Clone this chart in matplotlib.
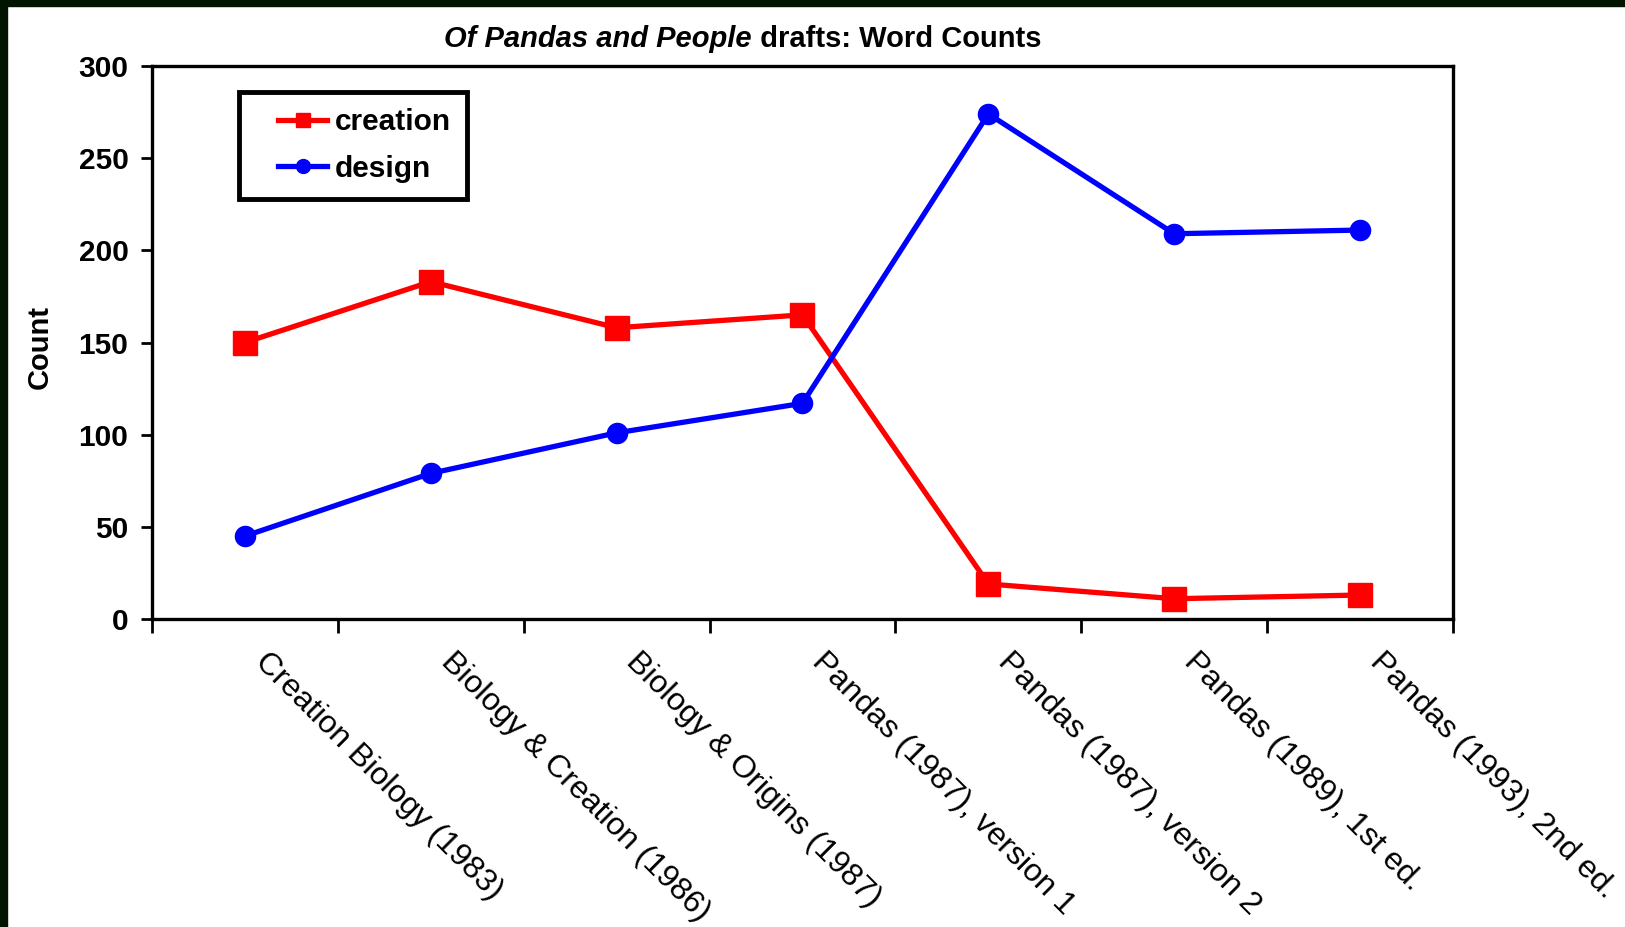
import matplotlib
matplotlib.use("Agg")
import matplotlib.pyplot as plt
import matplotlib.transforms as mtransforms
from matplotlib.patches import Rectangle
from matplotlib.lines import Line2D
from matplotlib.legend_handler import HandlerLine2D
import numpy as np

plt.rcParams['font.family'] = ['Liberation Sans', 'DejaVu Sans']

# data
drafts = ["Creation Biology (1983)", "Biology & Creation (1986)", "Biology & Origins (1987)",
          "Pandas (1987), version 1", "Pandas (1987), version 2", "Pandas (1989), 1st ed.",
          "Pandas (1993), 2nd ed."]
creation = [150, 183, 158, 165, 19, 11, 13]
design = [45, 79, 101, 117, 274, 209, 211]
y_ticks = [0, 50, 100, 150, 200, 250, 300]

fig = plt.figure(figsize=(16.25, 9.27), dpi=100)
fig.patch.set_facecolor("white")

# dark strips on top and left edge of the original screenshot
fig.patches.append(Rectangle((0, 1 - 6 / 927), 1, 6 / 927, transform=fig.transFigure,
                             color="#001400", zorder=0))
fig.patches.append(Rectangle((0, 0), 7 / 1625, 1, transform=fig.transFigure,
                             color="#001400", zorder=0))

ax = fig.add_axes([152 / 1625, 1 - 619 / 927, (1453 - 152) / 1625, (619 - 66) / 927])

x = np.arange(len(drafts))
ax.plot(x, creation, color="#ff0000", lw=3.8, marker="s", ms=17, label="creation", zorder=3)
ax.plot(x, design, color="#0000ff", lw=3.8, marker="o", ms=14.5, label="design", zorder=3)

ax.set_xlim(-0.5, len(drafts) - 0.5)
ax.set_ylim(0, 300)
ax.set_yticks(y_ticks)
ax.tick_params(axis="y", labelsize=21.5, length=8, width=2, pad=9)
for lab in ax.get_yticklabels():
    lab.set_fontweight("bold")

ax.set_xticks(x)
ax.set_xticklabels(drafts, fontsize=23, rotation=-45, ha="left", va="top",
                   rotation_mode="anchor")
ax.tick_params(axis="x", which="major", length=0, pad=20)
shift = mtransforms.ScaledTranslation(25 / 100, 0, fig.dpi_scale_trans)
for lab in ax.get_xticklabels():
    lab.set_transform(lab.get_transform() + shift)
ax.set_xticks(np.arange(-0.5, len(drafts), 1.0), minor=True)
ax.tick_params(axis="x", which="minor", length=10, width=2)

for sp in ax.spines.values():
    sp.set_linewidth(2.4)

leg = ax.legend(loc="upper left", bbox_to_anchor=(0.067, 0.953), borderaxespad=0,
                prop={"weight": "bold", "size": 21.5}, handlelength=2.4, handletextpad=0.25,
                borderpad=0.55, labelspacing=0.62, fancybox=False, framealpha=1,
                handler_map={Line2D: HandlerLine2D(xpad=0.75)})
leg.get_frame().set_edgecolor("black")
leg.get_frame().set_linewidth(3.5)
for h in leg.legend_handles:
    h.set_markersize(10)

fig.text(40 / 1625, 1 - 347 / 927, "Count", rotation=90, fontsize=21, fontweight="bold",
         ha="center", va="center")

t1 = fig.text(444 / 1625, 1 - 39 / 927, "Of Pandas and People", fontsize=21,
              style="italic", fontweight="bold", ha="left", va="center")
ax.annotate(" drafts: Word Counts", xy=(1, 0), xycoords=t1, fontsize=21,
            fontweight="bold", ha="left", va="bottom", annotation_clip=False)

fig.savefig("out.png", dpi=100)
